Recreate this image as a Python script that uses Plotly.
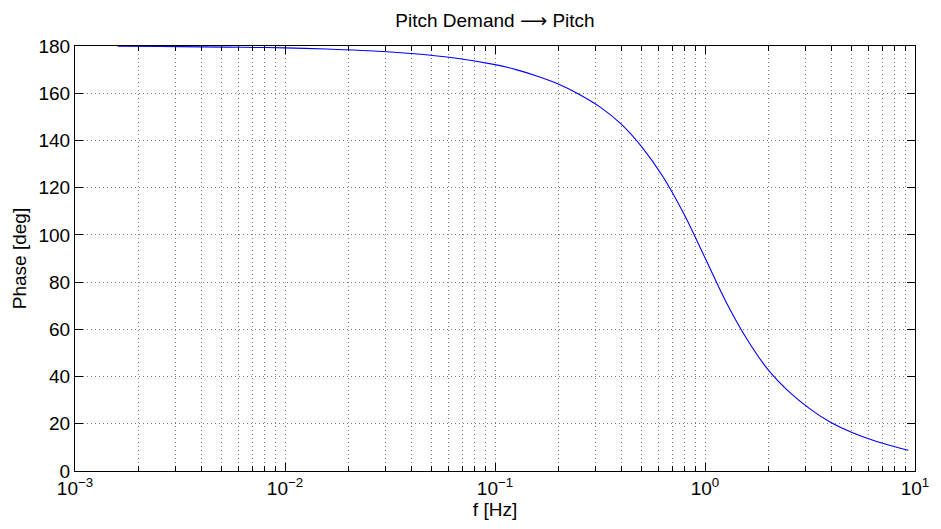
import plotly.graph_objects as go

# Frequency response phase, pitch demand -> pitch
freq_hz = [0.0016, 0.0025, 0.004, 0.0063, 0.01, 0.0158, 0.0251, 0.0398, 0.0631, 0.1,
           0.126, 0.158, 0.2, 0.251, 0.316, 0.398, 0.5, 0.631, 0.794, 1.0,
           1.26, 1.58, 2.0, 2.51, 3.16, 3.98, 5.01, 6.31, 7.94, 9.31]
phase_deg = [179.9, 179.8, 179.65, 179.45, 179.2, 178.7, 178.0, 176.8, 175.0, 172.1,
             170.0, 167.3, 163.9, 159.6, 154.2, 147.0, 137.3, 124.6, 108.8, 90.3,
             71.6, 56.0, 42.8, 33.6, 26.3, 20.5, 16.3, 13.0, 10.4, 8.8]

x_major = [1e-3, 1e-2, 1e-1, 1e0, 1e1]
x_major_text = ["10<sup>−3</sup>", "10<sup>−2</sup>", "10<sup>−1</sup>",
                "10<sup>0</sup>", "10<sup>1</sup>"]
x_minor = [m * 10.0 ** e for e in range(-3, 1) for m in range(2, 10)]
y_ticks = list(range(0, 181, 20))

FONT = "Liberation Sans, Arial, Helvetica, sans-serif"
GRID = dict(gridcolor="rgba(0,0,0,0.5)", griddash="1px,3px", gridwidth=1)

fig = go.Figure()
fig.add_trace(go.Scatter(
    x=freq_hz, y=phase_deg, mode="lines",
    line=dict(color="#0000ff", width=1.1, shape="spline", smoothing=1.0),
    showlegend=False, hoverinfo="skip",
))

fig.update_layout(
    width=941, height=529,
    margin=dict(l=75, r=15, t=46, b=58),
    paper_bgcolor="white", plot_bgcolor="white",
    font=dict(family=FONT, size=19, color="black"),
    title=dict(text="Pitch Demand <span style='font-family:DejaVu Sans'>⟶</span> Pitch",
               xref="paper", x=0.5, xanchor="center",
               y=0.962, yanchor="middle", font=dict(size=19)),
)

fig.update_xaxes(
    type="log", range=[-3, 1],
    tickmode="array", tickvals=x_major, ticktext=x_major_text,
    ticks="inside", ticklen=8, tickcolor="black", tickwidth=1,
    showline=True, linecolor="black", linewidth=1.2, mirror="ticks",
    showgrid=True, **GRID,
    minor=dict(tickvals=x_minor, ticks="inside", ticklen=5, tickcolor="black",
               showgrid=True, **GRID),
    title=dict(text="f [Hz]", standoff=2, font=dict(size=19)),
    zeroline=False,
)
fig.update_yaxes(
    range=[0, 180], tickmode="array", tickvals=y_ticks,
    ticks="inside", ticklen=8, tickcolor="black", tickwidth=1,
    showline=True, linecolor="black", linewidth=1.2, mirror="ticks",
    showgrid=True, **GRID,
    title=dict(text="Phase [deg]", standoff=6, font=dict(size=19)),
    zeroline=False,
)

fig.write_html("out.html")
